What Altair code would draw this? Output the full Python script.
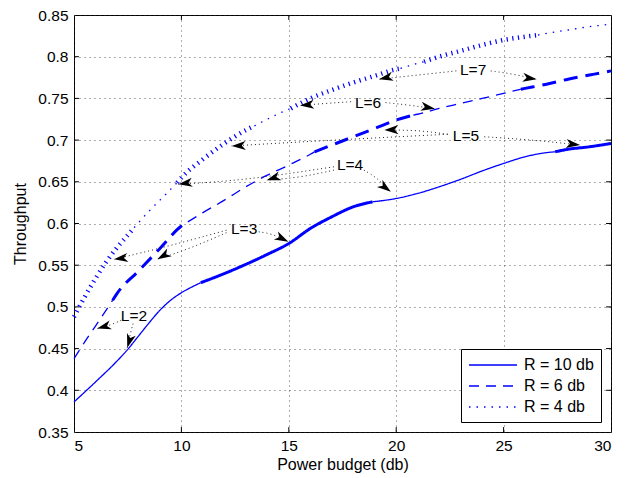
import altair as alt
import pandas as pd

FONT = "Liberation Sans"

# ---------------- curve data ----------------
x_r10 = [5, 6, 7, 7.5, 8, 8.5, 9, 9.5, 10, 10.5, 10.9, 12, 13, 14, 15, 16, 17, 18, 18.9,
         20, 21, 22, 23, 24, 25, 26, 27, 27.4, 28, 29, 30]
y_r10 = [0.386, 0.410, 0.435, 0.449, 0.465, 0.481, 0.496, 0.508, 0.517, 0.524, 0.529,
         0.540, 0.551, 0.563, 0.576, 0.594, 0.608, 0.620, 0.626, 0.630, 0.636, 0.644,
         0.653, 0.663, 0.672, 0.680, 0.685, 0.686, 0.689, 0.692, 0.696]
brk_r10 = [5, 10.9, 18.9, 27.4, 30]
thick_r10 = [False, True, False, True]

x_r6 = [5, 5.5, 6, 6.8, 7, 8, 9, 10, 10.3, 11, 12, 13, 14, 15, 16, 16.2, 17, 18, 19,
        20, 20.8, 21, 22, 23, 24, 25, 25.8, 26, 27, 28, 29, 30]
y_r6 = [0.438, 0.458, 0.477, 0.508, 0.516, 0.543, 0.570, 0.597, 0.602, 0.613, 0.628,
        0.644, 0.658, 0.670, 0.683, 0.686, 0.694, 0.704, 0.714, 0.724, 0.730, 0.731,
        0.738, 0.744, 0.750, 0.756, 0.761, 0.762, 0.767, 0.773, 0.778, 0.783]
brk_r6 = [5, 6.8, 10.3, 16.2, 20.8, 25.8, 30]
thick_r6 = [False, True, False, True, False, True]

x_r4 = [5, 5.5, 6, 6.5, 7, 7.5, 7.8, 8, 8.5, 9, 9.5, 9.8, 10, 11, 12, 13, 13.4, 14,
        15, 15.1, 16, 17, 18, 19, 20, 20.2, 21, 21.3, 22, 23, 24, 25, 26, 26.6, 27,
        28, 29, 30]
y_r4 = [0.488, 0.512, 0.534, 0.554, 0.571, 0.586, 0.595, 0.601, 0.615, 0.628, 0.641,
        0.649, 0.655, 0.677, 0.696, 0.712, 0.717, 0.725, 0.737, 0.738, 0.750, 0.760,
        0.769, 0.777, 0.785, 0.786, 0.792, 0.794, 0.800, 0.807, 0.814, 0.820, 0.824,
        0.826, 0.828, 0.832, 0.836, 0.839]
brk_r4 = [5, 7.8, 9.8, 13.4, 15.1, 20.2, 21.3, 26.6, 30]
thick_r4 = [True, False, True, False, True, False, True, False]

series_names = ["R = 10 db", "R = 6 db", "R = 4 db"]

# ---------------- annotations ----------------
label_text = ["L=2", "L=3", "L=4", "L=5", "L=6", "L=7"]
label_x = [7.79, 12.92, 17.85, 23.25, 18.69, 23.58]
label_y = [0.489, 0.593, 0.670, 0.705, 0.745, 0.784]

arrow_x = [6.08, 7.48, 6.86, 8.88, 14.98, 9.86, 13.97, 19.75, 12.34, 19.45, 28.56,
           15.52, 21.8, 19.2, 26.54]
arrow_y = [0.474, 0.451, 0.557, 0.557, 0.578, 0.647, 0.652, 0.638, 0.693, 0.712,
           0.694, 0.7415, 0.7376, 0.773, 0.773]
arrow_angle = [165, 107, 172, 150, 27, 172, 162, 37, 178, 178, 7, 175, 10, 168, 8]

# connector curves: start (near label), bend point, end (arrow tip)
conn_x = [[7.2, 6.7, 6.08], [7.75, 7.6, 7.48],
          [12.1, 9.3, 6.86], [12.1, 10.4, 8.88], [13.6, 14.2, 14.98],
          [17.1, 13.0, 9.86], [17.1, 15.5, 13.97], [18.5, 19.1, 19.75],
          [22.4, 17.0, 12.34], [22.4, 21.0, 19.45], [24.1, 26.5, 28.56],
          [17.9, 16.7, 15.52], [19.5, 20.6, 21.8],
          [22.8, 21.0, 19.2], [24.4, 25.5, 26.54]]
conn_y = [[0.484, 0.478, 0.474], [0.480, 0.466, 0.451],
          [0.592, 0.572, 0.557], [0.589, 0.570, 0.557], [0.590, 0.588, 0.578],
          [0.668, 0.652, 0.647], [0.664, 0.655, 0.652], [0.664, 0.655, 0.638],
          [0.707, 0.700, 0.693], [0.707, 0.712, 0.712], [0.704, 0.700, 0.694],
          [0.746, 0.744, 0.7415], [0.745, 0.742, 0.7376],
          [0.783, 0.778, 0.773], [0.783, 0.779, 0.773]]

x_ticks = [5, 10, 15, 20, 25, 30]
y_ticks = [0.35, 0.4, 0.45, 0.5, 0.55, 0.6, 0.65, 0.7, 0.75, 0.8, 0.85]

# ---------------- build tables ----------------
THIN, THICK, THICK_DOT = 1.3, 3.0, 4.5
rows = []
seg = 0
for name, xs, ys, brk, thk in [
    (series_names[0], x_r10, y_r10, brk_r10, thick_r10),
    (series_names[1], x_r6, y_r6, brk_r6, thick_r6),
    (series_names[2], x_r4, y_r4, brk_r4, thick_r4),
]:
    for i in range(len(brk) - 1):
        a, b = brk[i], brk[i + 1]
        if thk[i] and name != series_names[0]:
            style = name + " (thick)"
        else:
            style = name
        if thk[i]:
            w = THICK_DOT if name == series_names[2] else THICK
        else:
            w = THIN
        for j, (x, y) in enumerate(zip(xs, ys)):
            if a - 1e-9 <= x <= b + 1e-9:
                rows.append(dict(x=x, y=y, seg=seg, style=style, w=w, o=j))
        seg += 1
curves = pd.DataFrame(rows)

dash_domain = ["R = 10 db", "R = 6 db", "R = 4 db", "R = 6 db (thick)", "R = 4 db (thick)"]
dash_range = [[1, 0], [10, 7], [1.5, 6], [14, 8], [1.2, 4.5]]

conn_rows = []
for k, (cx, cy) in enumerate(zip(conn_x, conn_y)):
    for j, (a, b) in enumerate(zip(cx, cy)):
        conn_rows.append(dict(x=a, y=b, cid=k, o=j))
conn = pd.DataFrame(conn_rows)

arrows = pd.DataFrame(dict(x=arrow_x, y=arrow_y, ang=arrow_angle))
labels = pd.DataFrame(dict(x=label_x, y=label_y, t=label_text))

tick_rows = []
dx, dy = 0.23, 0.0059
for t in x_ticks[1:-1]:
    tick_rows.append(dict(x=t, x2=t, y=0.35, y2=0.35 + dy))
    tick_rows.append(dict(x=t, x2=t, y=0.85 - dy, y2=0.85))
for t in y_ticks[1:-1]:
    tick_rows.append(dict(x=5, x2=5 + dx, y=t, y2=t))
    tick_rows.append(dict(x=30 - dx, x2=30, y=t, y2=t))
ticks = pd.DataFrame(tick_rows)

# ---------------- encodings ----------------
X = alt.X("x:Q", scale=alt.Scale(domain=[5, 30], nice=False, zero=False),
          axis=alt.Axis(values=x_ticks, title="Power budget (db)", grid=True,
                        ticks=False, domain=False, labelPadding=6, titlePadding=3))
Y = alt.Y("y:Q", scale=alt.Scale(domain=[0.35, 0.85], nice=False, zero=False),
          axis=alt.Axis(values=y_ticks, format="~g", title="Throughput", grid=True,
                        ticks=False, domain=False, labelPadding=6, titlePadding=9))

legend_symbol = "M-1,0 L5,0"
lines = alt.Chart(curves).mark_line(color="#0000ff", strokeCap="butt",
                                    interpolate="monotone").encode(
    x=X, y=Y,
    detail="seg:N",
    order="o:Q",
    strokeWidth=alt.StrokeWidth("w:Q", scale=None, legend=None),
    strokeDash=alt.StrokeDash(
        "style:N",
        scale=alt.Scale(domain=dash_domain, range=dash_range),
        legend=alt.Legend(values=series_names, title=None, orient="bottom-right",
                          offset=10, symbolType=legend_symbol, symbolSize=256,
                          symbolStrokeColor="#0000ff", symbolStrokeWidth=1.5,
                          symbolFillColor="transparent",
                          labelFontSize=16, labelFont=FONT, labelColor="black",
                          labelOffset=38, rowPadding=4, padding=7,
                          strokeColor="black", fillColor="white", cornerRadius=0),
    ),
)

tickmarks = alt.Chart(ticks).mark_rule(color="black", strokeWidth=1).encode(
    x=X, y=Y, x2="x2:Q", y2="y2:Q")

connectors = alt.Chart(conn).mark_line(color="#222222", strokeWidth=1,
                                       strokeDash=[1, 3], interpolate="basis").encode(
    x=X, y=Y, detail="cid:N", order="o:Q")

arrow_shape = "M0,0 L-2,-0.65 L-1.45,0 L-2,0.65 Z"
heads = alt.Chart(arrows).mark_point(shape=arrow_shape, filled=True, color="black",
                                     opacity=1, size=196, strokeWidth=0).encode(
    x=X, y=Y, angle=alt.Angle("ang:Q", scale=None))

texts = alt.Chart(labels).mark_text(font=FONT, fontSize=15.5, color="black",
                                    align="center", baseline="middle").encode(
    x=X, y=Y, text="t:N")

chart = alt.layer(lines, tickmarks, connectors, heads, texts).properties(
    width=537, height=417,
    autosize=alt.AutoSizeParams(type="none"),
    padding={"left": 66, "top": 7, "right": 22, "bottom": 45},
).configure_view(stroke="black", strokeWidth=1).configure_axis(
    labelFont=FONT, labelFontSize=15.5, labelColor="black",
    titleFont=FONT, titleFontSize=16, titleFontWeight="normal", titleColor="black",
    gridColor="#333333", gridDash=[1, 4], gridWidth=1, gridOpacity=0.8,
)

chart.save("out.html", embed_options={"renderer": "svg", "actions": False})
